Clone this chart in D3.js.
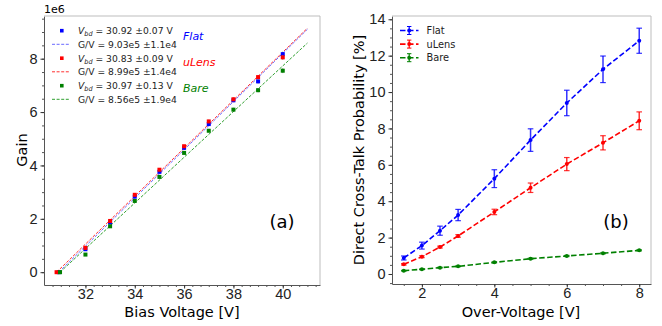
<!DOCTYPE html>
<html>
<head>
<meta charset="utf-8">
<script src="https://cdn.jsdelivr.net/npm/d3@7"></script>
<style>
  body { margin: 0; background: #fff; }
  svg { font-family: "DejaVu Sans", sans-serif; display: block; }
</style>
</head>
<body>
<svg width="662" height="326"></svg>
<script>
// ---- data (a): gain vs bias voltage, in units of 1e6 ----
const biasV = [32, 33, 34, 35, 36, 37, 38, 39, 40]
const gainFlat  = [0.86, 1.86, 2.83, 3.76, 4.66, 5.55, 6.44, 7.15, 8.17]
const gainULens = [0.91, 1.92, 2.90, 3.84, 4.72, 5.65, 6.48, 7.31, 8.05]
const gainBare  = [0.66, 1.72, 2.67, 3.57, 4.47, 5.30, 6.09, 6.82, 7.55]
const gainErr   = [0.03, 0.03, 0.04, 0.05, 0.05, 0.06, 0.07, 0.08, 0.09]
const seriesNames = ['Flat', 'uLens', 'Bare']
const vbd      = [30.92, 30.83, 30.97]
const vbdErr   = ['0.07', '0.09', '0.13']
const slopes   = [0.903, 0.899, 0.856] // 1e6 per V
const slopeTxt = ['9.03e5', '8.99e5', '8.56e5']
const slopeErr = ['1.1e4', '1.4e4', '1.9e4']
const fitEndV  = 41

// ---- data (b): direct cross-talk vs over-voltage ----
const overV = [1.5, 2, 2.5, 3, 4, 5, 6, 7, 8]
const ctFlat  = [0.88, 1.56, 2.38, 3.24, 5.24, 7.36, 9.40, 11.25, 12.82]
const ctFlatErr  = [0.11, 0.19, 0.25, 0.31, 0.49, 0.62, 0.70, 0.73, 0.69]
const ctULens = [0.53, 0.95, 1.48, 2.09, 3.41, 4.74, 6.04, 7.21, 8.42]
const ctULensErr = [0.04, 0.05, 0.05, 0.07, 0.15, 0.26, 0.36, 0.39, 0.49]
const ctBare  = [0.18, 0.26, 0.35, 0.42, 0.64, 0.84, 0.99, 1.14, 1.30]
const ctBareErr  = [0.02, 0.02, 0.02, 0.02, 0.03, 0.03, 0.03, 0.03, 0.03]

const colors = ['#0000ff', '#ff0000', '#008000']
const lineColors = ['#6a6aff', '#ff3030', '#30a030']

const svg = d3.select('svg')

// frame helper
const drawFrame = (g, x0, x1, y0, y1) => {
  g.append('line').attr('x1', x0).attr('x2', x1).attr('y1', y0).attr('y2', y0).attr('stroke', '#bdbdbd')
  g.append('line').attr('x1', x1).attr('x2', x1).attr('y1', y0).attr('y2', y1).attr('stroke', '#bdbdbd')
}

const styleAxis = (ax, size) => {
  ax.select('.domain').attr('stroke', '#555')
  ax.selectAll('.tick line').attr('stroke', '#333')
  ax.selectAll('.tick text').attr('font-size', size).attr('fill', '#222')
}

// ================= panel (a) =================
const A = { x0: 44, x1: 320, y0: 16, y1: 285 }
const xA = d3.scaleLinear().domain([30.32, 41.51]).range([A.x0, A.x1])
const yA = d3.scaleLinear().domain([-0.48, 9.6]).range([A.y1, A.y0])
const gA = svg.append('g')

// minor ticks
gA.append('g').attr('transform', `translate(0,${A.y1})`)
  .call(d3.axisBottom(xA).tickValues(d3.range(30.6667, 41.5, 1 / 3)).tickSize(2).tickFormat(''))
  .call(ax => { ax.select('.domain').remove(); ax.selectAll('line').attr('stroke', '#555') })
gA.append('g').attr('transform', `translate(${A.x0},0)`)
  .call(d3.axisLeft(yA).tickValues(d3.range(0, 9.6, 0.5)).tickSize(2).tickFormat(''))
  .call(ax => { ax.select('.domain').remove(); ax.selectAll('line').attr('stroke', '#555') })

const axAx = gA.append('g').attr('transform', `translate(0,${A.y1})`)
  .call(d3.axisBottom(xA).tickValues([32, 34, 36, 38, 40]).tickSize(3.5).tickSizeOuter(0).tickPadding(0.5))
styleAxis(axAx, 14.5)
const axAy = gA.append('g').attr('transform', `translate(${A.x0},0)`)
  .call(d3.axisLeft(yA).tickValues([0, 2, 4, 6, 8]).tickSize(3.5).tickSizeOuter(0).tickPadding(3))
styleAxis(axAy, 14.5)
drawFrame(gA, A.x0, A.x1, A.y0, A.y1)

gA.append('text').attr('x', A.x0).attr('y', 13).attr('font-size', 11).text('1e6')
gA.append('text').attr('x', 182).attr('y', 317).attr('text-anchor', 'middle').attr('font-size', 14.5).text('Bias Voltage [V]')
gA.append('text').attr('transform', 'translate(27,150) rotate(-90)').attr('text-anchor', 'middle').attr('font-size', 14.5).text('Gain')
gA.append('text').attr('x', 282).attr('y', 228).attr('text-anchor', 'middle').attr('font-size', 18).text('(a)')

const gainSeries = [gainFlat, gainULens, gainBare]
const lineA = d3.line().x(d => xA(d[0])).y(d => yA(d[1]))

// fit lines from the fitted parameters
gainSeries.forEach((s, i) => {
  const pts = [[vbd[i], 0], [fitEndV, slopes[i] * (fitEndV - vbd[i])]]
  gA.append('path').attr('d', lineA(pts)).attr('fill', 'none')
    .attr('stroke', lineColors[i]).attr('stroke-width', 1).attr('stroke-dasharray', '3,1.6')
})

gainSeries.forEach((s, i) => {
  const pts = [[vbd[i], 0]].concat(biasV.map((v, j) => [v, s[j], gainErr[j]]))
  const g = gA.append('g')
  g.selectAll('line.err').data(pts.filter(d => d[2])).enter().append('line')
    .attr('x1', d => xA(d[0])).attr('x2', d => xA(d[0]))
    .attr('y1', d => yA(d[1] - d[2])).attr('y2', d => yA(d[1] + d[2]))
    .attr('stroke', '#888').attr('stroke-width', 1)
  g.selectAll('rect').data(pts).enter().append('rect')
    .attr('x', d => xA(d[0]) - 2).attr('y', d => yA(d[1]) - 2)
    .attr('width', 4).attr('height', 4).attr('fill', colors[i])
})

// legend (a)
const legA = gA.append('g').attr('font-size', 9.2).attr('fill', '#222')
seriesNames.forEach((n, i) => {
  const yv = 30.7 + i * 27.5
  const yl = yv + 13.6
  legA.append('rect').attr('x', 60).attr('y', yv - 1.8).attr('width', 3.6).attr('height', 3.6).attr('fill', colors[i])
  const t = legA.append('text').attr('x', 78).attr('y', yv + 3.4)
  t.append('tspan').attr('font-style', 'italic').text('V')
  t.append('tspan').attr('font-style', 'italic').attr('font-size', 6.5).attr('dy', 2.2).text('bd')
  t.append('tspan').attr('dy', -2.2).text(` = ${vbd[i].toFixed(2)} \u00b1${vbdErr[i]} V`)
  legA.append('line').attr('x1', 52).attr('x2', 70).attr('y1', yl).attr('y2', yl)
    .attr('stroke', lineColors[i]).attr('stroke-width', 1).attr('stroke-dasharray', '3,1.6')
  legA.append('text').attr('x', 78).attr('y', yl + 3.4).text(`G/V = ${slopeTxt[i]} \u00b1${slopeErr[i]}`)
})
const tagY = [39.5, 65.5, 91.5]
seriesNames.forEach((n, i) => {
  gA.append('text').attr('x', 183).attr('y', tagY[i]).attr('font-size', 11)
    .attr('font-style', 'italic').attr('fill', colors[i]).text(n)
})

// ================= panel (b) =================
const B = { x0: 392, x1: 651, y0: 16, y1: 284 }
const xB = d3.scaleLinear().domain([1.175, 8.325]).range([B.x0, B.x1])
const yB = d3.scaleLinear().domain([-0.55, 14.18]).range([B.y1, B.y0])
const gB = svg.append('g')

gB.append('g').attr('transform', `translate(0,${B.y1})`)
  .call(d3.axisBottom(xB).tickValues(d3.range(1.5, 8.3, 0.5)).tickSize(2).tickFormat(''))
  .call(ax => { ax.select('.domain').remove(); ax.selectAll('line').attr('stroke', '#555') })
gB.append('g').attr('transform', `translate(${B.x0},0)`)
  .call(d3.axisLeft(yB).tickValues(d3.range(-0.5, 14.1, 0.5)).tickSize(2).tickFormat(''))
  .call(ax => { ax.select('.domain').remove(); ax.selectAll('line').attr('stroke', '#555') })

const axBx = gB.append('g').attr('transform', `translate(0,${B.y1})`)
  .call(d3.axisBottom(xB).tickValues([2, 4, 6, 8]).tickSize(3.5).tickSizeOuter(0).tickPadding(0.5))
styleAxis(axBx, 14.5)
const axBy = gB.append('g').attr('transform', `translate(${B.x0},0)`)
  .call(d3.axisLeft(yB).tickValues([0, 2, 4, 6, 8, 10, 12, 14]).tickSize(3.5).tickSizeOuter(0).tickPadding(3))
styleAxis(axBy, 14.5)
drawFrame(gB, B.x0, B.x1, B.y0, B.y1)

gB.append('text').attr('x', 521).attr('y', 317).attr('text-anchor', 'middle').attr('font-size', 14.5).text('Over-Voltage [V]')
gB.append('text').attr('transform', 'translate(364,150) rotate(-90)').attr('text-anchor', 'middle').attr('font-size', 14.5).text('Direct Cross-Talk Probability [%]')
gB.append('text').attr('x', 616).attr('y', 228).attr('text-anchor', 'middle').attr('font-size', 18).text('(b)')

const ctSeries = [ctFlat, ctULens, ctBare]
const ctErrs = [ctFlatErr, ctULensErr, ctBareErr]
const lineB = d3.line().x(d => xB(d[0])).y(d => yB(d[1]))

ctSeries.forEach((s, i) => {
  const pts = overV.map((v, j) => [v, s[j], ctErrs[i][j]])
  const g = gB.append('g')
  g.append('path').attr('d', lineB(pts)).attr('fill', 'none')
    .attr('stroke', colors[i]).attr('stroke-width', 1.6).attr('stroke-dasharray', '5.5,2.5')
  g.selectAll('line.err').data(pts).enter().append('line')
    .attr('x1', d => xB(d[0])).attr('x2', d => xB(d[0]))
    .attr('y1', d => yB(d[1] - d[2])).attr('y2', d => yB(d[1] + d[2]))
    .attr('stroke', colors[i]).attr('stroke-width', 1.5).attr('opacity', 0.8)
  ;['-', '+'].forEach(sign => {
    g.selectAll(null).data(pts).enter().append('line')
      .attr('x1', d => xB(d[0]) - 2.8).attr('x2', d => xB(d[0]) + 2.8)
      .attr('y1', d => yB(sign === '-' ? d[1] - d[2] : d[1] + d[2]))
      .attr('y2', d => yB(sign === '-' ? d[1] - d[2] : d[1] + d[2]))
      .attr('stroke', colors[i]).attr('stroke-width', 1.2).attr('opacity', 0.8)
  })
  g.selectAll('circle').data(pts).enter().append('circle')
    .attr('cx', d => xB(d[0])).attr('cy', d => yB(d[1])).attr('r', 2).attr('fill', colors[i])
})

// legend (b)
seriesNames.forEach((n, i) => {
  const y = 30.5 + i * 13.6
  const g = gB.append('g')
  g.append('line').attr('x1', 400).attr('x2', 418.5).attr('y1', y).attr('y2', y)
    .attr('stroke', colors[i]).attr('stroke-width', 1.6).attr('stroke-dasharray', '5.5,2.5')
  g.append('line').attr('x1', 409.2).attr('x2', 409.2).attr('y1', y - 4).attr('y2', y + 4)
    .attr('stroke', colors[i]).attr('stroke-width', 1.2)
  g.append('line').attr('x1', 407).attr('x2', 411.4).attr('y1', y - 4).attr('y2', y - 4).attr('stroke', colors[i])
  g.append('line').attr('x1', 407).attr('x2', 411.4).attr('y1', y + 4).attr('y2', y + 4).attr('stroke', colors[i])
  g.append('circle').attr('cx', 409.2).attr('cy', y).attr('r', 2).attr('fill', colors[i])
  g.append('text').attr('x', 426.5).attr('y', y + 3.4).attr('font-size', 9.8).attr('fill', '#222').text(n)
})
</script>
</body>
</html>
